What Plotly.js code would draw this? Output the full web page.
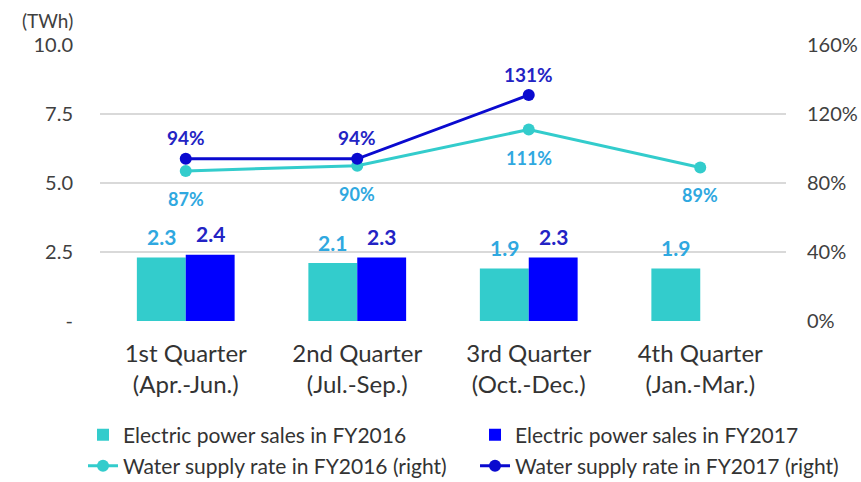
<!DOCTYPE html>
<html><head><meta charset="utf-8">
<script src="https://cdn.plot.ly/plotly-3.0.1.min.js"></script>
<style>body{margin:0;background:#fff}#c{width:861px;height:482px}</style>
</head><body><div id="c"></div>
<script>
const categories = ["1st Quarter<br>(Apr.-Jun.)", "2nd Quarter<br>(Jul.-Sep.)", "3rd Quarter<br>(Oct.-Dec.)", "4th Quarter<br>(Jan.-Mar.)"];
const sales2016 = [2.3, 2.1, 1.9, 1.9];
const sales2017 = [2.4, 2.3, 2.3, null];
const water2016 = [87, 90, 111, 89];
const water2017 = [94, 94, 131, null];
const leftTickVals = [0, 2.5, 5, 7.5, 10];
const leftTickText = ["-", "2.5", "5.0", "7.5", "10.0"];
const rightTickVals = [0, 40, 80, 120, 160];
const rightTickText = ["0%", "40%", "80%", "120%", "160%"];

const F = "Lato, 'Open Sans', sans-serif";
const cCyan = "#33CCCC", cBlue = "#0000FF", cLine17 = "#0A0ACF";
const cLab16 = "#2FA8E0", cLab17 = "#2323C4";

const traces = [
  {type:"bar", name:"Electric power sales in FY2016", x:categories, y:sales2016,
   marker:{color:cCyan}, legend:"legend", hoverinfo:"skip"},
  {type:"bar", name:"Electric power sales in FY2017", x:categories, y:sales2017,
   marker:{color:cBlue}, legend:"legend2", hoverinfo:"skip"},
  {type:"scatter", mode:"lines+markers", name:"Water supply rate in FY2016 (right)", x:categories, y:water2016,
   yaxis:"y2", line:{color:cCyan, width:3}, marker:{color:cCyan, size:12}, legend:"legend3", cliponaxis:false},
  {type:"scatter", mode:"lines+markers", name:"Water supply rate in FY2017 (right)", x:categories, y:water2017,
   yaxis:"y2", line:{color:cLine17, width:3}, marker:{color:cLine17, size:12}, legend:"legend4", cliponaxis:false}
];

const annotations = [];
sales2016.forEach((v,i)=>{ annotations.push({x:categories[i], y:v, xref:"x", yref:"y", text:v.toFixed(1), showarrow:false,
  xshift:-24.5, yshift:21, font:{family:F, size:21, color:cLab16, weight:"bold"}}); });
sales2017.forEach((v,i)=>{ if(v!=null) annotations.push({x:categories[i], y:v, xref:"x", yref:"y", text:v.toFixed(1), showarrow:false,
  xshift:24.5, yshift:21, font:{family:F, size:21, color:cLab17, weight:"bold"}}); });
water2016.forEach((v,i)=>{ annotations.push({x:categories[i], y:v, xref:"x", yref:"y2", text:v+"%", showarrow:false,
  yshift:-28, font:{family:F, size:18, color:cLab16, weight:"bold"}}); });
water2017.forEach((v,i)=>{ if(v!=null) annotations.push({x:categories[i], y:v, xref:"x", yref:"y2", text:v+"%", showarrow:false,
  yshift:21, font:{family:F, size:19, color:cLab17, weight:"bold"}}); });
annotations.push({xref:"paper", yref:"paper", x:-0.117, y:1.04, xanchor:"left", yanchor:"bottom", text:"(TWh)", showarrow:false,
  font:{family:F, size:19, color:"#404040"}});

const legBase = {orientation:"h", xref:"container", yref:"container", xanchor:"left", yanchor:"middle",
  font:{family:F, size:21, color:"#333"}, bgcolor:"rgba(0,0,0,0)"};

const layout = {
  width:861, height:482, margin:{l:100, r:75, t:45, b:161},
  paper_bgcolor:"#fff", plot_bgcolor:"#fff",
  barmode:"group", bargap:0.43, bargroupgap:0,
  font:{family:F, color:"#404040"},
  xaxis:{tickfont:{family:F, size:24, color:"#333"}, showline:false, ticks:"", fixedrange:true, ticklabelstandoff:16},
  yaxis:{range:[0,10], tickvals:leftTickVals, ticktext:leftTickText, tickfont:{family:F, size:20, color:"#404040"},
    gridcolor:"#D9D9D9", gridwidth:2, zeroline:false, ticklen:0, ticklabelstandoff:26},
  yaxis2:{overlaying:"y", side:"right", range:[0,160], tickvals:rightTickVals, ticktext:rightTickText,
    tickfont:{family:F, size:20, color:"#404040"}, showgrid:false, zeroline:false, ticklabelstandoff:20},
  showlegend:true,
  legend:Object.assign({}, legBase, {x:0.0964, y:0.0975}),
  legend2:Object.assign({}, legBase, {x:0.5517, y:0.0975}),
  legend3:Object.assign({}, legBase, {x:0.0964, y:0.033}),
  legend4:Object.assign({}, legBase, {x:0.5517, y:0.033}),
  annotations:annotations
};
Plotly.newPlot("c", traces, layout, {displayModeBar:false, staticPlot:true});
</script></body></html>
